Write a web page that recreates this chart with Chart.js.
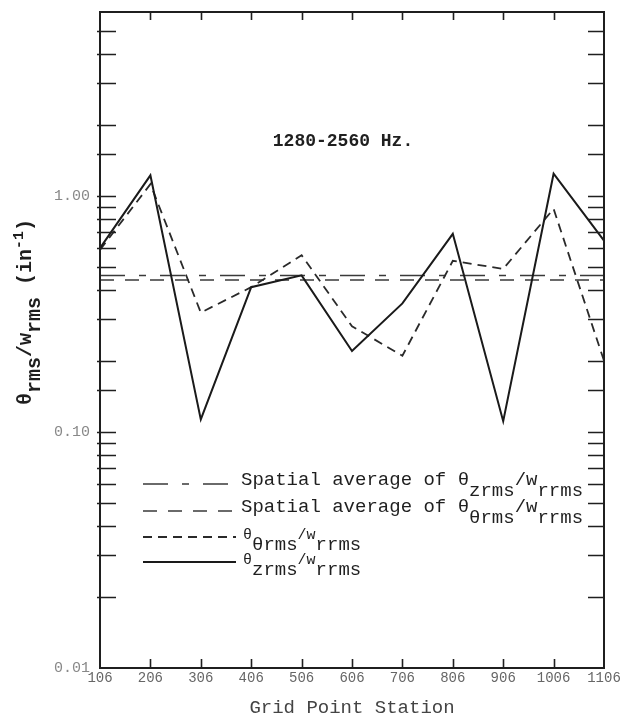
<!DOCTYPE html>
<html>
<head>
<meta charset="utf-8">
<script src="https://cdn.jsdelivr.net/npm/chart.js@4/dist/chart.umd.min.js"></script>
<style>
  html, body { margin: 0; padding: 0; background: #ffffff; }
  #wrap { width: 637px; height: 721px; position: relative; }
</style>
</head>
<body>
<div id="wrap"><canvas id="chart"></canvas></div>
<script>
// Grid point stations along the x axis
const stations = ['106', '206', '306', '406', '506', '606', '706', '806', '906', '1006', '1106'];

// θ_zrms / w_rrms at each station (in^-1)
const thetaZ = [0.60, 1.22, 0.113, 0.41, 0.46, 0.22, 0.35, 0.69, 0.111, 1.24, 0.645];

// θ_θrms / w_rrms at each station (in^-1)
const thetaTheta = [0.59, 1.12, 0.32, 0.41, 0.56, 0.28, 0.21, 0.53, 0.49, 0.88, 0.20];

// Spatial averages of the two ratios
const avgThetaZ = 0.46;
const avgThetaTheta = 0.44;

// Labelled decades on the log axis
const yLabelValues = [0.01, 0.1, 1];
const yLabelTexts = ['0.01', '0.10', '1.00'];

const MONO = '"Liberation Mono", "DejaVu Sans Mono", monospace';
const INK = '#1f1f1f';

function drawRuns(ctx, x, y, runs) {
  for (const r of runs) {
    ctx.font = r.font;
    ctx.fillText(r.text, x, y + (r.dy || 0));
    x += ctx.measureText(r.text).width;
  }
  return x;
}

// Plot frame with inward tick marks on all four sides
const framePlugin = {
  id: 'frame',
  afterDatasetsDraw(chart) {
    const { ctx, chartArea: a, scales } = chart;
    const y = scales.y, x = scales.x;
    ctx.save();
    ctx.strokeStyle = INK;
    ctx.lineWidth = 2;
    ctx.setLineDash([]);
    ctx.strokeRect(a.left, a.top, a.right - a.left, a.bottom - a.top);
    ctx.lineWidth = 1.6;
    ctx.beginPath();
    for (const t of y.ticks) {
      const py = Math.round(y.getPixelForValue(t.value)) + 0.5;
      if (py < a.top + 2 || py > a.bottom - 2) continue;
      ctx.moveTo(a.left - 3, py); ctx.lineTo(a.left + 16, py);
      ctx.moveTo(a.right - 16, py); ctx.lineTo(a.right + 1, py);
    }
    for (let i = 1; i < stations.length - 1; i++) {
      const px = Math.round(x.getPixelForValue(i)) + 0.5;
      ctx.moveTo(px, a.bottom); ctx.lineTo(px, a.bottom - 9);
      ctx.moveTo(px, a.top); ctx.lineTo(px, a.top + 8);
    }
    ctx.stroke();
    ctx.restore();
  }
};

// Band title, legend with subscripts, rotated y-axis title
const textPlugin = {
  id: 'texts',
  afterDraw(chart) {
    const { ctx } = chart;
    const ds = chart.data.datasets;
    ctx.save();
    ctx.fillStyle = INK;
    ctx.textBaseline = 'alphabetic';

    // band title
    ctx.font = 'bold 18px ' + MONO;
    ctx.textAlign = 'center';
    ctx.fillText('1280-2560 Hz.', 343, 146);
    ctx.textAlign = 'left';

    // legend
    const big = '19px ' + MONO;
    const small = '15px ' + MONO;
    const rows = [
      { ds: 2, lineY: 484, x: 241, y: 485, runs: [
        { text: 'Spatial average of θ', font: big },
        { text: 'zrms', font: big, dy: 11 },
        { text: '/w', font: big },
        { text: 'rrms', font: big, dy: 11 } ] },
      { ds: 3, lineY: 511, x: 241, y: 512, runs: [
        { text: 'Spatial average of θ', font: big },
        { text: 'θrms', font: big, dy: 11 },
        { text: '/w', font: big },
        { text: 'rrms', font: big, dy: 11 } ] },
      { ds: 1, lineY: 537, x: 243, y: 539, runs: [
        { text: 'θ', font: small },
        { text: 'θrms', font: big, dy: 11 },
        { text: '/w', font: small },
        { text: 'rrms', font: big, dy: 11 } ] },
      { ds: 0, lineY: 562, x: 243, y: 564, runs: [
        { text: 'θ', font: small },
        { text: 'zrms', font: big, dy: 11 },
        { text: '/w', font: small },
        { text: 'rrms', font: big, dy: 11 } ] }
    ];
    for (const r of rows) {
      const d = ds[r.ds];
      ctx.strokeStyle = d.borderColor;
      ctx.lineWidth = d.borderWidth;
      ctx.setLineDash(d.borderDash || []);
      ctx.beginPath();
      ctx.moveTo(143, r.lineY); ctx.lineTo(236, r.lineY);
      ctx.stroke();
      ctx.setLineDash([]);
      drawRuns(ctx, r.x, r.y, r.runs);
    }

    // y-axis title, reading bottom to top
    ctx.translate(31, 405);
    ctx.rotate(-Math.PI / 2);
    const yb = 'bold 20px ' + MONO;
    const ysup = 'bold 15px ' + MONO;
    drawRuns(ctx, 0, 0, [
      { text: 'θ', font: yb },
      { text: 'rms', font: yb, dy: 9 },
      { text: '/w', font: yb },
      { text: 'rms', font: yb, dy: 9 },
      { text: ' (in', font: yb },
      { text: '-1', font: ysup, dy: -8 },
      { text: ')', font: yb }
    ]);
    ctx.restore();
  }
};

const ctx = document.getElementById('chart').getContext('2d');
new Chart(ctx, {
  type: 'line',
  data: {
    labels: stations,
    datasets: [
      {
        label: 'θzrms/wrrms',
        data: thetaZ,
        borderColor: '#1a1a1a',
        borderWidth: 2,
        pointRadius: 0,
        tension: 0,
        fill: false
      },
      {
        label: 'θθrms/wrrms',
        data: thetaTheta,
        borderColor: '#2a2a2a',
        borderWidth: 1.8,
        borderDash: [9, 6],
        pointRadius: 0,
        tension: 0,
        fill: false
      },
      {
        label: 'Spatial average of θzrms/wrrms',
        data: stations.map(() => avgThetaZ),
        borderColor: '#3a3a3a',
        borderWidth: 1.5,
        borderDash: [25, 14, 7, 14],
        pointRadius: 0,
        fill: false
      },
      {
        label: 'Spatial average of θθrms/wrrms',
        data: stations.map(() => avgThetaTheta),
        borderColor: '#3a3a3a',
        borderWidth: 1.5,
        borderDash: [14, 11],
        pointRadius: 0,
        fill: false
      }
    ]
  },
  options: {
    responsive: true,
    maintainAspectRatio: false,
    animation: false,
    layout: { padding: { top: 12, right: 33, left: 0, bottom: 0 } },
    plugins: {
      legend: { display: false },
      tooltip: { enabled: false },
      title: { display: false }
    },
    scales: {
      x: {
        type: 'category',
        offset: false,
        grid: { display: false, drawTicks: false },
        border: { display: false },
        ticks: {
          autoSkip: false,
          maxRotation: 0,
          padding: 2,
          color: '#666666',
          font: { family: MONO, size: 14 }
        },
        title: {
          display: true,
          text: 'Grid Point Station',
          color: '#444444',
          font: { family: MONO, size: 19 },
          padding: { top: 0, bottom: 2 }
        },
        afterFit(scale) { scale.height = 53; }
      },
      y: {
        type: 'logarithmic',
        min: 0.01,
        max: 6,
        grid: { display: false, drawTicks: false },
        border: { display: false },
        ticks: {
          autoSkip: false,
          padding: 10,
          color: '#888888',
          font: { family: MONO, size: 15 },
          callback(value) {
            const i = yLabelValues.findIndex(v => Math.abs(Math.log10(value) - Math.log10(v)) < 1e-6);
            return i >= 0 ? yLabelTexts[i] : '';
          }
        },
        afterFit(scale) {
          scale.width = 100;
          scale.paddingTop = 0;
          scale.paddingBottom = 0;
        }
      }
    }
  },
  plugins: [framePlugin, textPlugin]
});
</script>
</body>
</html>
